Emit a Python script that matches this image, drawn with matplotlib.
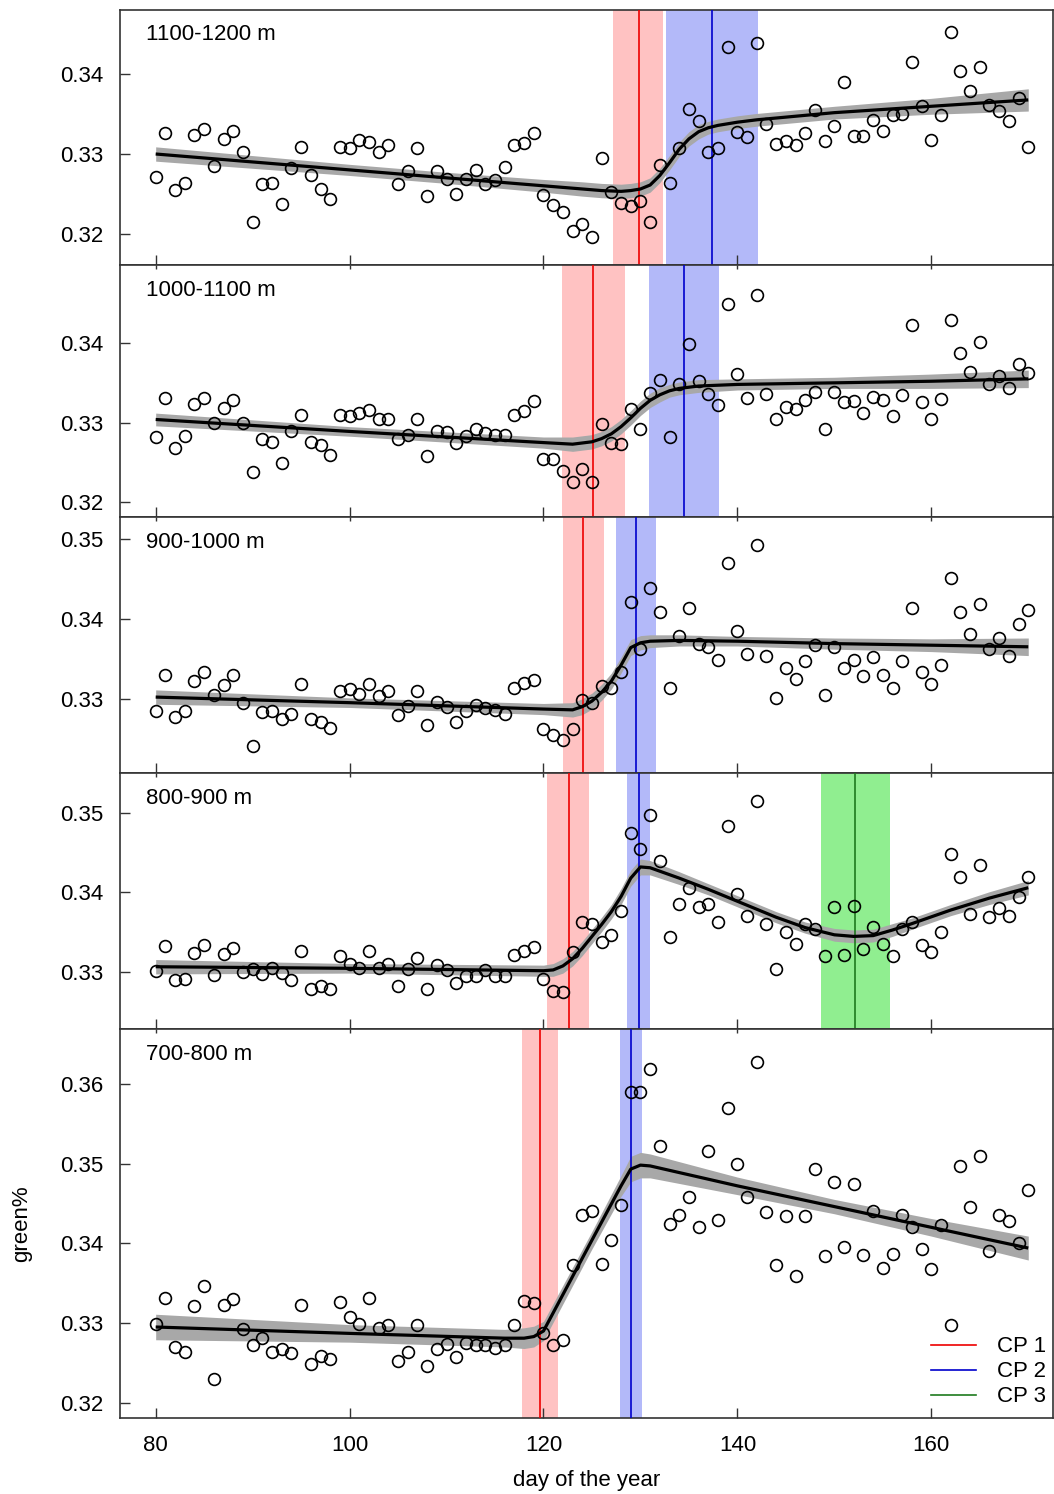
import numpy as np
import matplotlib
matplotlib.use("Agg")
import matplotlib.pyplot as plt
from matplotlib.lines import Line2D

plt.rcParams['font.family'] = ['Liberation Sans', 'DejaVu Sans']
FS = 16

days = np.arange(80, 171)

# observed green% per elevation band (days 80..170)
g1100 = [0.3271, 0.3326, 0.3255, 0.3263, 0.3324, 0.3331, 0.3285, 0.3319, 0.3329, 0.3303,
         0.3214, 0.3262, 0.3263, 0.3237, 0.3283, 0.3309, 0.3274, 0.3256, 0.3243, 0.3309,
         0.3308, 0.3318, 0.3315, 0.3303, 0.3311, 0.3262, 0.3278, 0.3308, 0.3247, 0.3279,
         0.3269, 0.3250, 0.3269, 0.3280, 0.3262, 0.3267, 0.3284, 0.3311, 0.3314, 0.3327,
         0.3248, 0.3236, 0.3227, 0.3203, 0.3212, 0.3196, 0.3295, 0.3252, 0.3238, 0.3234,
         0.3241, 0.3215, 0.3286, 0.3264, 0.3307, 0.3357, 0.3342, 0.3303, 0.3308, 0.3434,
         0.3328, 0.3321, 0.3440, 0.3338, 0.3313, 0.3316, 0.3311, 0.3327, 0.3355, 0.3316,
         0.3335, 0.3390, 0.3323, 0.3323, 0.3343, 0.3329, 0.3349, 0.3350, 0.3416, 0.3360,
         0.3318, 0.3349, 0.3453, 0.3405, 0.3379, 0.3410, 0.3362, 0.3354, 0.3342, 0.3371,
         0.3309]
g1000 = [0.3282, 0.3331, 0.3268, 0.3283, 0.3323, 0.3331, 0.3300, 0.3318, 0.3329, 0.3299,
         0.3238, 0.3279, 0.3276, 0.3249, 0.3290, 0.3309, 0.3276, 0.3272, 0.3259, 0.3309,
         0.3308, 0.3312, 0.3316, 0.3304, 0.3305, 0.3279, 0.3284, 0.3305, 0.3258, 0.3289,
         0.3288, 0.3274, 0.3283, 0.3292, 0.3287, 0.3284, 0.3285, 0.3310, 0.3315, 0.3327,
         0.3254, 0.3254, 0.3239, 0.3226, 0.3242, 0.3226, 0.3298, 0.3274, 0.3273, 0.3317,
         0.3292, 0.3337, 0.3354, 0.3282, 0.3349, 0.3399, 0.3352, 0.3336, 0.3322, 0.3449,
         0.3361, 0.3331, 0.3460, 0.3336, 0.3305, 0.3320, 0.3317, 0.3329, 0.3339, 0.3292,
         0.3338, 0.3326, 0.3327, 0.3312, 0.3332, 0.3328, 0.3308, 0.3335, 0.3423, 0.3326,
         0.3305, 0.3330, 0.3429, 0.3388, 0.3364, 0.3401, 0.3349, 0.3358, 0.3343, 0.3374,
         0.3362]
g900 = [0.3285, 0.3330, 0.3277, 0.3285, 0.3322, 0.3334, 0.3305, 0.3317, 0.3330, 0.3295,
        0.3241, 0.3283, 0.3285, 0.3275, 0.3281, 0.3318, 0.3275, 0.3271, 0.3263, 0.3309,
        0.3312, 0.3306, 0.3318, 0.3303, 0.3310, 0.3280, 0.3291, 0.3309, 0.3267, 0.3296,
        0.3289, 0.3271, 0.3285, 0.3292, 0.3288, 0.3286, 0.3281, 0.3314, 0.3320, 0.3324,
        0.3262, 0.3255, 0.3248, 0.3262, 0.3298, 0.3294, 0.3316, 0.3313, 0.3333, 0.3421,
        0.3362, 0.3439, 0.3408, 0.3314, 0.3378, 0.3414, 0.3368, 0.3365, 0.3349, 0.3470,
        0.3385, 0.3356, 0.3492, 0.3354, 0.3301, 0.3339, 0.3325, 0.3347, 0.3367, 0.3305,
        0.3365, 0.3339, 0.3348, 0.3329, 0.3352, 0.3330, 0.3314, 0.3347, 0.3413, 0.3333,
        0.3319, 0.3342, 0.3451, 0.3409, 0.3381, 0.3419, 0.3362, 0.3376, 0.3353, 0.3394,
        0.3411]
g800 = [0.3302, 0.3333, 0.3291, 0.3292, 0.3324, 0.3334, 0.3297, 0.3323, 0.3330, 0.3301,
        0.3304, 0.3298, 0.3306, 0.3299, 0.3290, 0.3327, 0.3279, 0.3283, 0.3279, 0.3320,
        0.3310, 0.3306, 0.3327, 0.3305, 0.3310, 0.3283, 0.3304, 0.3318, 0.3279, 0.3309,
        0.3303, 0.3286, 0.3295, 0.3295, 0.3303, 0.3295, 0.3295, 0.3322, 0.3327, 0.3332,
        0.3292, 0.3277, 0.3275, 0.3325, 0.3363, 0.3360, 0.3338, 0.3347, 0.3377, 0.3474,
        0.3454, 0.3497, 0.3439, 0.3344, 0.3386, 0.3406, 0.3382, 0.3385, 0.3363, 0.3483,
        0.3398, 0.3370, 0.3514, 0.3360, 0.3304, 0.3350, 0.3336, 0.3361, 0.3354, 0.3320,
        0.3382, 0.3322, 0.3383, 0.3329, 0.3357, 0.3336, 0.3320, 0.3354, 0.3363, 0.3334,
        0.3325, 0.3350, 0.3448, 0.3420, 0.3373, 0.3435, 0.3369, 0.3381, 0.3370, 0.3394,
        0.3420]
g700 = [0.3299, 0.3332, 0.3270, 0.3264, 0.3321, 0.3347, 0.3230, 0.3322, 0.3330, 0.3292,
        0.3273, 0.3281, 0.3264, 0.3267, 0.3263, 0.3323, 0.3248, 0.3259, 0.3255, 0.3326,
        0.3307, 0.3299, 0.3331, 0.3294, 0.3298, 0.3253, 0.3264, 0.3297, 0.3246, 0.3267,
        0.3274, 0.3257, 0.3275, 0.3273, 0.3273, 0.3269, 0.3272, 0.3298, 0.3328, 0.3325,
        0.3288, 0.3272, 0.3279, 0.3373, 0.3435, 0.3441, 0.3374, 0.3404, 0.3448, 0.3590,
        0.3590, 0.3619, 0.3522, 0.3424, 0.3435, 0.3458, 0.3420, 0.3516, 0.3429, 0.3570,
        0.3500, 0.3458, 0.3627, 0.3439, 0.3373, 0.3434, 0.3359, 0.3434, 0.3493, 0.3384,
        0.3477, 0.3395, 0.3474, 0.3385, 0.3440, 0.3369, 0.3387, 0.3436, 0.3420, 0.3393,
        0.3368, 0.3423, 0.3298, 0.3497, 0.3446, 0.3510, 0.3390, 0.3435, 0.3428, 0.3400,
        0.3467]

# fitted change-point model: knot days, fitted value, band half-width
fit1_d = [80, 90, 100, 110, 120, 124, 126, 128, 129, 130, 131, 132, 133, 134, 135, 136, 137, 138, 140, 142, 150, 160, 170]
fit1_m = [0.3300, 0.3290, 0.3280, 0.3270, 0.3260, 0.3256, 0.3254, 0.3253, 0.3254, 0.3256, 0.3261, 0.3273,
          0.3289, 0.3306, 0.3319, 0.3328, 0.3333, 0.3336, 0.3340, 0.3343, 0.3352, 0.3360, 0.3368]
fit1_h = [0.0009, 0.0008, 0.0007, 0.0007, 0.0008, 0.0009, 0.0009, 0.0009, 0.0009, 0.0009, 0.0009, 0.0009,
          0.0009, 0.0009, 0.0009, 0.0009, 0.0008, 0.0008, 0.0008, 0.0008, 0.0008, 0.0010, 0.0014]

fit2_d = [80, 100, 120, 123, 125, 126, 127, 128, 129, 130, 131, 132, 133, 134, 136, 140, 150, 160, 170]
fit2_m = [0.3304, 0.3289, 0.3275, 0.3273, 0.3276, 0.3280, 0.3286, 0.3295, 0.3306, 0.3318, 0.3328, 0.3335,
          0.3340, 0.3343, 0.3346, 0.3348, 0.3350, 0.3352, 0.3355]
fit2_h = [0.0008, 0.0006, 0.0007, 0.0009, 0.0009, 0.0009, 0.0009, 0.0009, 0.0009, 0.0009, 0.0009, 0.0009,
          0.0008, 0.0008, 0.0008, 0.0007, 0.0007, 0.0009, 0.0011]

fit3_d = [80, 100, 120, 123, 124, 125, 126, 127, 128, 129, 130, 131, 134, 140, 150, 160, 170]
fit3_m = [0.3302, 0.3295, 0.3287, 0.3286, 0.3290, 0.3297, 0.3308, 0.3322, 0.3342, 0.3364, 0.3370, 0.3372,
          0.3373, 0.3372, 0.3369, 0.3367, 0.3365]
fit3_h = [0.0009, 0.0006, 0.0007, 0.0009, 0.0010, 0.0010, 0.0010, 0.0010, 0.0010, 0.0010, 0.0009, 0.0008,
          0.0007, 0.0006, 0.0007, 0.0008, 0.0011]

fit4_d = [80, 100, 120, 121, 122, 123, 124, 125, 126, 127, 128, 129, 130, 131, 134, 137, 140, 144, 147,
          150, 152, 154, 156, 158, 162, 166, 170]
fit4_m = [0.3307, 0.3305, 0.3302, 0.3303, 0.3308, 0.3317, 0.3330, 0.3345, 0.3360, 0.3376, 0.3395, 0.3418,
          0.3432, 0.3431, 0.3418, 0.3404, 0.3389, 0.3369, 0.3356, 0.3347, 0.3345, 0.3346, 0.3353, 0.3361,
          0.3378, 0.3393, 0.3406]
fit4_h = [0.0009, 0.0006, 0.0007, 0.0008, 0.0009, 0.0009, 0.0009, 0.0009, 0.0009, 0.0009, 0.0010, 0.0010,
          0.0010, 0.0009, 0.0008, 0.0007, 0.0007, 0.0007, 0.0007, 0.0008, 0.0008, 0.0008, 0.0008, 0.0007,
          0.0007, 0.0008, 0.0009]

fit5_d = [80, 100, 116, 118, 119, 120, 125, 128, 129, 130, 131, 140, 150, 160, 170]
fit5_m = [0.3295, 0.3287, 0.3281, 0.3281, 0.3283, 0.3290, 0.3404, 0.3472, 0.3493, 0.3498, 0.3497,
          0.3472, 0.3446, 0.3420, 0.3394]
fit5_h = [0.0016, 0.0011, 0.0011, 0.0013, 0.0013, 0.0012, 0.0011, 0.0013, 0.0016, 0.0016, 0.0015,
          0.0011, 0.0009, 0.0011, 0.0015]

# change points: centre, interval low, interval high
cp1 = [129.8, 125.1, 124.1, 122.6, 119.6]
cp1_lo = [127.2, 121.9, 122.0, 120.4, 117.75]
cp1_hi = [132.35, 128.4, 126.2, 124.7, 121.5]
cp2 = [137.4, 134.5, 129.5, 129.8, 129.0]
cp2_lo = [132.6, 130.9, 127.45, 128.6, 127.9]
cp2_hi = [142.15, 138.1, 131.6, 131.0, 130.2]
cp3 = [None, None, None, 152.1, None]
cp3_lo = [None, None, None, 148.6, None]
cp3_hi = [None, None, None, 155.7, None]

labels = ["1100-1200 m", "1000-1100 m", "900-1000 m", "800-900 m", "700-800 m"]
obs = [g1100, g1000, g900, g800, g700]
fits = [(fit1_d, fit1_m, fit1_h), (fit2_d, fit2_m, fit2_h), (fit3_d, fit3_m, fit3_h),
        (fit4_d, fit4_m, fit4_h), (fit5_d, fit5_m, fit5_h)]
ylims = [(0.31604, 0.34811), (0.31816, 0.34979), (0.32069, 0.35276), (0.32290, 0.35497), (0.31809, 0.36687)]
yticks = [[0.32, 0.33, 0.34], [0.32, 0.33, 0.34], [0.33, 0.34, 0.35], [0.33, 0.34, 0.35],
          [0.32, 0.33, 0.34, 0.35, 0.36]]

# panel pixel extents (top, bottom) in a 1054x1494 canvas
W, H = 1054, 1494
rows = [(10, 265), (265, 517), (517, 773), (773, 1029), (1029, 1418)]
left_px, right_px = 120, 1052.5

cp_colors = [('#ffc2c2', '#ee0000'), ('#b3b9f9', '#0000cc'), ('#90ee90', '#1e7a1e')]

fig = plt.figure(figsize=(W / 100, H / 100), dpi=100)

for i in range(5):
    top, bot = rows[i]
    ax = fig.add_axes([left_px / W, 1 - bot / H, (right_px - left_px) / W, (bot - top) / H])
    cps = [(cp1[i], cp1_lo[i], cp1_hi[i]), (cp2[i], cp2_lo[i], cp2_hi[i]), (cp3[i], cp3_lo[i], cp3_hi[i])]
    for (c, lo, hi), (bc, lc) in zip(cps, cp_colors):
        if c is None:
            continue
        ax.axvspan(lo, hi, color=bc, lw=0, zorder=1)
    fd, fm, fh = fits[i]
    fm = np.array(fm)
    fh = np.array(fh)
    ax.fill_between(fd, fm - fh, fm + fh, color='#a8a8a8', lw=0, zorder=2)
    for (c, lo, hi), (bc, lc) in zip(cps, cp_colors):
        if c is None:
            continue
        ax.axvline(c, color=lc, lw=1.2, zorder=3)
    ax.plot(fd, fm, color='black', lw=2.3, zorder=4, solid_capstyle='butt')
    ax.plot(days, obs[i], 'o', mfc='none', mec='black', ms=8.5, mew=1.2, zorder=5)

    ax.set_xlim(76.32, 172.5)
    ax.set_ylim(*ylims[i])
    ax.set_xticks([80, 100, 120, 140, 160])
    ax.set_yticks(yticks[i])
    ax.set_yticklabels(['%.2f' % v for v in yticks[i]], fontsize=FS)
    ax.tick_params(axis='both', direction='in', length=7, width=1, color='#333333', pad=12)
    if i < 4:
        ax.tick_params(axis='x', labelbottom=False)
    else:
        ax.set_xticklabels(['80', '100', '120', '140', '160'], fontsize=FS)
    if i > 0:
        sec = ax.secondary_xaxis('top')
        sec.set_xticks([80, 100, 120, 140, 160])
        sec.tick_params(direction='in', length=3, width=1, color='#333333', labeltop=False)
        sec.spines['top'].set_visible(False)
    for s in ax.spines.values():
        s.set_linewidth(1.2)
        s.set_color('#333333')
    ax.text(26 / (right_px - left_px), 1 - 25 / (bot - top), labels[i], transform=ax.transAxes,
            fontsize=FS, ha='left', va='center')

    if i == 4:
        ax.set_xlabel('day of the year', fontsize=FS, labelpad=10)
        ax.set_ylabel('green%', fontsize=FS, labelpad=20)
        handles = [Line2D([], [], color=cp_colors[k][1], lw=1.2) for k in range(3)]
        ax.legend(handles, ['CP 1', 'CP 2', 'CP 3'], loc='lower right', frameon=False, fontsize=FS,
                  handlelength=2.0, handletextpad=0.95, labelspacing=0.18, borderaxespad=0.0,
                  borderpad=0.3, bbox_to_anchor=(1.0, 0.01))

fig.savefig('out.png', dpi=100)
